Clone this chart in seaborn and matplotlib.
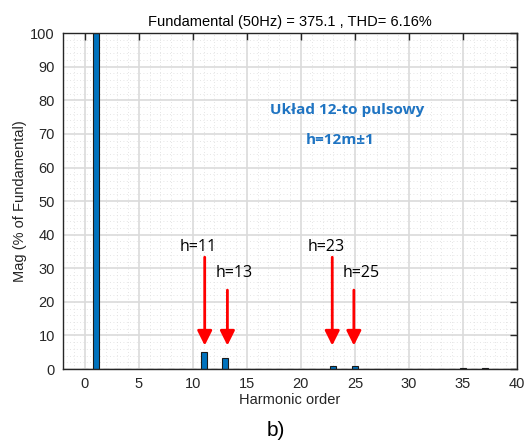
import matplotlib
matplotlib.use("Agg")
import matplotlib.pyplot as plt
import seaborn as sns
import numpy as np
import pandas as pd

# Data
harmonics = list(range(0, 41))
magnitudes = [0.15, 100, 0.1, 0.1, 0.1, 0.1, 0.1, 0.1, 0.1, 0.1, 0.1,
              5.0, 0.1, 3.4, 0.1, 0.1, 0.1, 0.1, 0.1, 0.1, 0.1,
              0.1, 0.1, 0.9, 0.1, 0.8, 0.1, 0.1, 0.1, 0.1, 0.1,
              0.1, 0.1, 0.1, 0.1, 0.3, 0.1, 0.3, 0.1, 0.1, 0.1]
arrow_labels = ["h=11", "h=13", "h=23", "h=25"]
arrow_x = [11.1, 13.2, 22.9, 24.9]
arrow_top = [33.3, 23.5, 33.3, 23.5]
arrow_tip = [7.0, 7.0, 7.0, 7.0]
label_x = [10.5, 13.85, 22.3, 25.6]
label_y = [36.2, 28.6, 36.2, 28.6]
title_text = "Fundamental (50Hz) = 375.1 , THD= 6.16%"

df = pd.DataFrame({"h": harmonics, "mag": magnitudes})

sns.set_theme(style="white")
plt.rcParams['font.family'] = ['Liberation Sans', 'DejaVu Sans']

fig = plt.figure(figsize=(5.26, 4.42), dpi=100)
ax = fig.add_axes([0.120, 0.165, 0.863, 0.760])

sns.barplot(data=df, x="h", y="mag", native_scale=True, width=0.55,
            color="#0072BD", saturation=1, edgecolor="#1a1a1a", linewidth=0.8, ax=ax)

ax.set_xlim(-2, 40)
ax.set_ylim(0, 100)
ax.set_xticks(np.arange(0, 41, 5))
ax.set_yticks(np.arange(0, 101, 10))
ax.set_xticks(np.arange(-2, 41, 1), minor=True)
ax.set_yticks(np.arange(0, 101, 2), minor=True)
ax.grid(True, which="major", color="#dadada", linewidth=1.2)
ax.grid(True, which="minor", color="#dcdcdc", linewidth=0.6, linestyle=(0, (1, 3)))
ax.set_axisbelow(True)
ax.tick_params(which="major", direction="in", length=5, width=1, top=True, right=True,
               labelsize=10.5, colors="#262626", pad=6)
ax.tick_params(which="minor", length=0)
for s in ax.spines.values():
    s.set_color("#262626")
    s.set_linewidth(1)
    s.set_visible(True)

ax.set_xlabel("Harmonic order", fontsize=10.5, color="#262626", labelpad=1)
ax.set_ylabel("Mag (% of Fundamental)", fontsize=10.5, color="#262626", labelpad=2)
ax.set_title(title_text, fontsize=10.5, color="black", pad=5)

for xx, yt, yb in zip(arrow_x, arrow_top, arrow_tip):
    ax.annotate("", xy=(xx, yb), xytext=(xx, yt),
                arrowprops=dict(arrowstyle="-|>", color="red", lw=2, mutation_scale=22,
                                shrinkA=0, shrinkB=0))
for lbl, lx, ly in zip(arrow_labels, label_x, label_y):
    ax.text(lx, ly, lbl, fontsize=11.5, color="black",
            family=["Open Sans", "DejaVu Sans"], ha="center", va="center")

ax.text(24.3, 77.1, "Układ 12-to pulsowy", fontsize=11, fontweight="bold", color="#1F74C2",
        family=["Open Sans", "DejaVu Sans"], ha="center", va="center")
ax.text(23.6, 68.2, "h=12m±1", fontsize=11, fontweight="bold", color="#1F74C2",
        family=["Open Sans", "DejaVu Sans"], ha="center", va="center")

fig.text(276 / 526, 1 - 431 / 442, "b)", fontsize=15, color="black", ha="center", va="center")

fig.savefig("out.png", dpi=100)
